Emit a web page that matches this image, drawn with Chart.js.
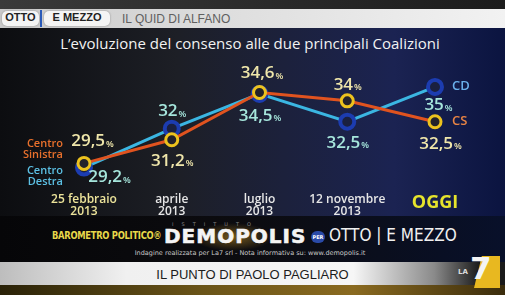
<!DOCTYPE html>
<html>
<head>
<meta charset="utf-8">
<script src="https://cdn.jsdelivr.net/npm/chart.js@4.4.1/dist/chart.umd.min.js"></script>
<style>
    body { margin: 0; width: 505px; height: 295px; overflow: hidden; background: #0d0e12; font-family: 'Open Sans', sans-serif; }
    #bg { position: absolute; left: 0; top: 0; width: 505px; height: 295px;
        background: linear-gradient(90deg, #0c0d10 0%, #1d1f26 35%, #1b2352 78%, #0b1440 100%); }
    #bgBottom { position: absolute; left: 0; top: 216px; width: 505px; height: 79px;
        background: radial-gradient(ellipse 40px 14px at 233px 21px, rgba(200,150,40,0.55), rgba(0,0,0,0) 100%),
                    linear-gradient(90deg, #060608 0%, #0c0c10 50%, #08102a 100%); }
    #topBar { position: absolute; left: 0; top: 0; width: 505px; height: 9px; background: linear-gradient(90deg, #3a3a3a, #1c1c1c); }
    #banner { position: absolute; left: 0; top: 9px; width: 505px; height: 19px;
        background: linear-gradient(90deg, #c9c9c9 0%, #dcdcdc 40%, #f2f2f2 100%); }
    .pill { position: absolute; top: 2px; height: 15px; line-height: 15px; background: #f4f4f4; border-radius: 5px;
        font: bold 11px 'Liberation Sans', sans-serif; color: #222; text-align: center; box-shadow: 0 0 2px #888; }
    #quid { position: absolute; left: 122px; top: 3px; font: 12px 'Liberation Sans', sans-serif; color: #606060; }
    #title { position: absolute; left: 0; width: 500px; top: 33px; text-align: center; color: #f2f2f2; font: 15px 'Open Sans', sans-serif; }
    #chartBox { position: absolute; left: 0; top: 0; width: 505px; height: 295px; }
    #baro { position: absolute; left: 52px; top: 230px; font: bold 10px 'DejaVu Sans Condensed', sans-serif; color: #e8d84a; transform: scaleX(0.93); transform-origin: left; letter-spacing: -0.3px; }
    #demo { position: absolute; left: 164px; top: 224px; font: 900 20px 'DejaVu Sans', sans-serif; color: #f4f4f4; letter-spacing: 1px; -webkit-text-stroke: 0.6px #f4f4f4; }
    #istituto { position: absolute; left: 172px; top: 221px; font: 5px 'DejaVu Sans', sans-serif; color: #888; letter-spacing: 8px; }
    #per { position: absolute; left: 311px; top: 231px; width: 14px; height: 12px; border-radius: 7px; background: #2a4aa8;
        font: bold 5px 'DejaVu Sans', sans-serif; color: #fff; text-align: center; line-height: 12px; }
    #otto2 { position: absolute; left: 329px; top: 225px; font: 17px 'DejaVu Sans Condensed', sans-serif; color: #f0f0f0; }
    #nota { position: absolute; left: 0; width: 500px; top: 249px; text-align: center; font: 6.5px 'DejaVu Sans', sans-serif; color: #c8c8c8; }
    #punto { position: absolute; left: 0; top: 262px; width: 505px; height: 23px;
        background: linear-gradient(90deg, #bdbdbd 0%, #f0f0f0 25%, #f6f6f6 70%, #8a8a8a 86%, #1a1a1a 95%); }
    #puntoText { position: absolute; left: 0; width: 505px; top: 267px; text-align: center; font: 13px 'Liberation Sans', sans-serif; color: #1c1c1c; }
    #strip { position: absolute; left: 0; top: 285px; width: 505px; height: 10px; background: linear-gradient(90deg, #2a2208, #6a5418 40%, #8a6a20 70%, #3a2c0c); }
    #la7 { position: absolute; left: 474px; top: 256px; width: 26px; height: 32px; background: #e8b820;
        clip-path: polygon(30% 0, 100% 0, 100% 100%, 0 100%); }
    #la7num { position: absolute; left: 470px; top: 250px; font: 900 31px 'DejaVu Sans', sans-serif; color: #f4f4f4; }
    #la7la { position: absolute; left: 458px; top: 268px; font: bold 7px 'DejaVu Sans', sans-serif; color: #ddd; }
</style>
</head>
<body>
<div id="bg"></div>
<div id="bgBottom"></div>
<div id="topBar"></div>
<div id="banner">
    <div class="pill" style="left:2px;width:37px;">OTTO</div>
    <div style="position:absolute;left:40px;top:1px;width:2px;height:17px;background:#2a5ab8;"></div>
    <div class="pill" style="left:44px;width:66px;">E MEZZO</div>
    <div id="quid">IL QUID DI ALFANO</div>
</div>
<div id="title">L’evoluzione del consenso alle due principali Coalizioni</div>
<div id="baro">BAROMETRO POLITICO®</div>
<div id="istituto">ISTITUTO</div>
<div id="demo">DEMOPOLIS</div>
<div id="per">PER</div>
<div id="otto2">OTTO | E MEZZO</div>
<div id="nota">Indagine realizzata per La7 srl - Nota informativa su: www.demopolis.it</div>
<div id="punto"></div>
<div id="puntoText">IL PUNTO DI PAOLO PAGLIARO</div>
<div id="strip"></div>
<div id="la7"></div>
<div id="la7num">7</div>
<div id="la7la">LA</div>
<div id="chartBox"><canvas id="lineChart" width="505" height="295"></canvas></div>

<script>
    // Data
    var periods = [['25 febbraio', '2013'], ['aprile', '2013'], ['luglio', '2013'], ['12 novembre', '2013'], 'OGGI'];
    var centroSinistra = [29.5, 31.2, 34.6, 34, 32.5];
    var centroDestra = [29.2, 32, 34.5, 32.5, 35];

    // Label offsets from each marker (style only)
    var csLabelOffsets = [[8, -22], [0, 21], [2, -19], [0, -16], [5, 22]];
    var cdLabelOffsets = [[25, 10], [0, -17], [0, 22], [0, 21], [3, 18]];

    var csLine = '#e0531f';
    var cdLine = '#3bb6e2';

    function formatValue(v) {
        return String(v).replace('.', ',');
    }

    // Draw value labels, series names next to the markers
    var labelPlugin = {
        id: 'valueLabels',
        afterDatasetsDraw: function (chart) {
            var ctx = chart.ctx;
            ctx.save();
            ctx.textBaseline = 'middle';

            function drawValue(x, y, v, color) {
                var num = formatValue(v);
                ctx.font = '600 17px "Open Sans"';
                var w1 = ctx.measureText(num).width;
                ctx.font = '600 9px "Open Sans"';
                var w2 = ctx.measureText('%').width;
                var start = x - (w1 + w2) / 2;
                ctx.fillStyle = color;
                ctx.textAlign = 'left';
                ctx.font = '600 17px "Open Sans"';
                ctx.fillText(num, start, y);
                ctx.font = '600 9px "Open Sans"';
                ctx.fillText('%', start + w1 + 1, y + 3);
            }

            var csMeta = chart.getDatasetMeta(0);
            var cdMeta = chart.getDatasetMeta(1);
            csMeta.data.forEach(function (pt, i) {
                drawValue(pt.x + csLabelOffsets[i][0], pt.y + csLabelOffsets[i][1], centroSinistra[i], '#efe6aa');
            });
            cdMeta.data.forEach(function (pt, i) {
                drawValue(pt.x + cdLabelOffsets[i][0], pt.y + cdLabelOffsets[i][1], centroDestra[i], '#a6e6dc');
            });

            // Names on the left
            ctx.textAlign = 'right';
            ctx.font = '600 11px "Open Sans"';
            var csFirst = csMeta.data[0];
            var cdFirst = cdMeta.data[0];
            ctx.fillStyle = '#e8702c';
            ctx.fillText('Centro', csFirst.x - 21, csFirst.y - 20);
            ctx.fillText('Sinistra', csFirst.x - 21, csFirst.y - 9);
            ctx.fillStyle = '#5cc0e4';
            ctx.fillText('Centro', cdFirst.x - 21, cdFirst.y + 3);
            ctx.fillText('Destra', cdFirst.x - 21, cdFirst.y + 14);

            // Short names on the right
            ctx.textAlign = 'left';
            ctx.font = '600 13px "Open Sans"';
            var csLast = csMeta.data[csMeta.data.length - 1];
            var cdLast = cdMeta.data[cdMeta.data.length - 1];
            ctx.fillStyle = '#e88444';
            ctx.fillText('CS', csLast.x + 17, csLast.y);
            ctx.fillStyle = '#6ab0ec';
            ctx.fillText('CD', cdLast.x + 17, cdLast.y - 1);
            ctx.restore();
        }
    };

    var ctx = document.getElementById('lineChart').getContext('2d');
    var chart = new Chart(ctx, {
        type: 'line',
        data: {
            labels: periods,
            datasets: [
                {
                    label: 'Centro Sinistra',
                    data: centroSinistra,
                    borderColor: csLine,
                    borderWidth: 3,
                    tension: 0,
                    pointRadius: 6,
                    pointBorderWidth: 3,
                    pointBorderColor: '#ecc21e',
                    pointBackgroundColor: '#23222a',
                    clip: false,
                    order: 1
                },
                {
                    label: 'Centro Destra',
                    data: centroDestra,
                    borderColor: cdLine,
                    borderWidth: 3,
                    tension: 0,
                    pointRadius: 7,
                    pointBorderWidth: 4,
                    pointBorderColor: '#1c3cb0',
                    pointBackgroundColor: '#1a2040',
                    clip: false,
                    order: 2
                }
            ]
        },
        options: {
            responsive: false,
            animation: false,
            devicePixelRatio: 1,
            layout: { padding: { left: 84, right: 70, top: 55, bottom: 68 } },
            plugins: {
                legend: { display: false },
                tooltip: { enabled: false }
            },
            scales: {
                x: {
                    offset: false,
                    grid: { display: false, drawTicks: false },
                    border: { display: false },
                    afterFit: function (scale) { scale.height = 40; },
                    ticks: {
                        padding: 7,
                        maxRotation: 0,
                        autoSkip: false,
                        color: function (c) {
                            if (c.index === 0) return '#ece39a';
                            if (c.index === 4) return '#e6e42c';
                            return '#e6e6e6';
                        },
                        font: function (c) {
                            if (c.index === 4) return { family: 'Open Sans', size: 18, weight: 'bold', lineHeight: 1 };
                            return { family: 'Open Sans', size: 12, weight: '600', lineHeight: 1.0 };
                        }
                    }
                },
                y: {
                    display: false,
                    min: 27.8,
                    max: 37.3
                }
            }
        },
        plugins: [labelPlugin]
    });
</script>
</body>
</html>
